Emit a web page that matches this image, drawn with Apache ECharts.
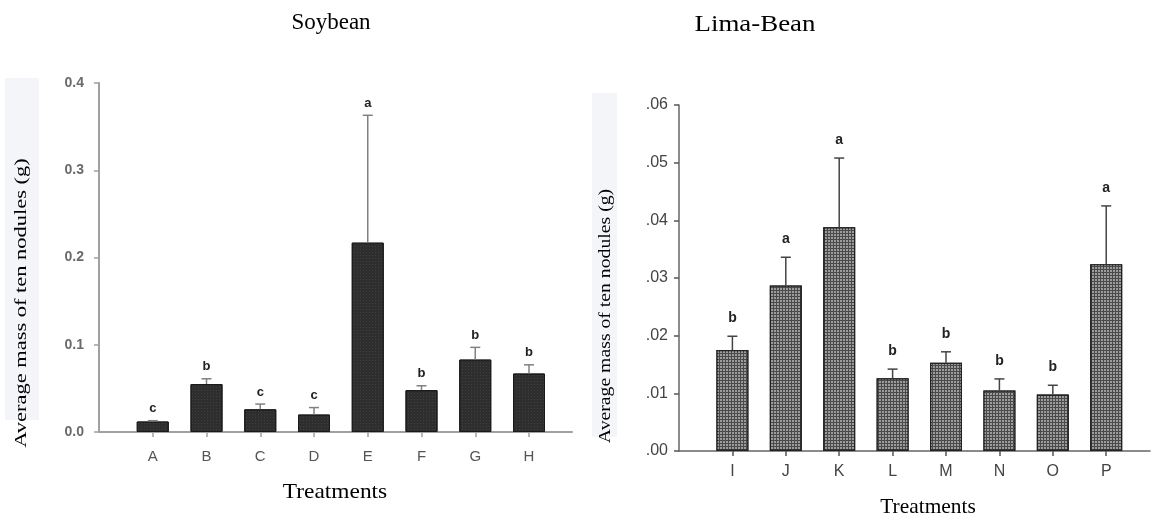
<!DOCTYPE html>
<html>
<head>
<meta charset="utf-8">
<script src="https://cdn.jsdelivr.net/npm/echarts@6/dist/echarts.min.js"></script>
<style>
html,body{margin:0;padding:0;background:#fff;}
#chart{width:1156px;height:517px;}
</style>
</head>
<body>
<div id="chart"></div>
<script>
// ---- data ----
const soyCategories = ['A','B','C','D','E','F','G','H'];
const soyMeans = [0.012, 0.055, 0.026, 0.020, 0.217, 0.048, 0.083, 0.067];
const soyErrors = [0.001, 0.006, 0.006, 0.008, 0.146, 0.005, 0.014, 0.010];
const soyLetters = ['c','b','c','c','a','b','b','b'];
const soyTicks = ['0.0','0.1','0.2','0.3','0.4'];

const limaCategories = ['I','J','K','L','M','N','O','P'];
const limaMeans = [0.0175, 0.0287, 0.0388, 0.0126, 0.0153, 0.0105, 0.0098, 0.0324];
const limaErrors = [0.0024, 0.0049, 0.0120, 0.0016, 0.0019, 0.0020, 0.0016, 0.0101];
const limaLetters = ['b','a','a','b','b','b','b','a'];
const limaTicks = ['.00','.01','.02','.03','.04','.05','.06'];

const titles = ['Soybean', 'Lima-Bean'];
const yName = 'Average mass of ten nodules (g)';
const xName = 'Treatments';

// ---- chart ----
const chart = echarts.init(document.getElementById('chart'), null, {renderer:'canvas'});
const positions = (cats) => cats.map((c, i) => i + 1);

function errSeries(idx, cats, means, errs, letters, color, gap, font) {
  return {
    type: 'custom',
    xAxisIndex: idx, yAxisIndex: idx,
    z: 5,
    data: cats.map((c, i) => [i + 1, means[i], errs[i]]),
    renderItem: function (params, api) {
      const x = api.value(0), v = api.value(1), e = api.value(2);
      const p0 = api.coord([x, v]);
      const p1 = api.coord([x, v + e]);
      return {
        type: 'group',
        children: [
          {type: 'line', shape: {x1: p0[0], y1: p0[1], x2: p1[0], y2: p1[1]}, style: {stroke: color, lineWidth: 1.5}},
          {type: 'line', shape: {x1: p1[0] - 5, y1: p1[1], x2: p1[0] + 5, y2: p1[1]}, style: {stroke: color, lineWidth: 1.5}},
          {type: 'text', x: p1[0], y: p1[1] - gap, style: {text: letters[params.dataIndex], fill: '#222', font: font, align: 'center', verticalAlign: 'middle'}}
        ]
      };
    }
  };
}

const serif = '"Liberation Serif", "Times New Roman", serif';

const option = {
  animation: false,
  backgroundColor: '#fff',
  grid: [
    {left: 99, top: 83, width: 473, height: 349},
    {left: 679, top: 105, width: 471, height: 346}
  ],
  xAxis: [
    {
      type: 'value', gridIndex: 0, min: 0, max: 8.8,
      splitLine: {show: false},
      axisLine: {show: true, lineStyle: {color: '#a0a0a0', width: 2}},
      axisTick: {show: true, customValues: positions(soyCategories), length: 5, lineStyle: {color: '#a0a0a0', width: 1.5}},
      axisLabel: {customValues: positions(soyCategories), formatter: (v) => soyCategories[Math.round(v) - 1] || '', margin: 17, fontFamily: 'Liberation Sans', fontSize: 15, color: '#555'}
    },
    {
      type: 'value', gridIndex: 1, min: 0, max: 8.82,
      splitLine: {show: false},
      axisLine: {show: true, lineStyle: {color: '#666', width: 1.5}},
      axisTick: {show: true, customValues: positions(limaCategories), length: 5, lineStyle: {color: '#555', width: 1.5}},
      axisLabel: {customValues: positions(limaCategories), formatter: (v) => limaCategories[Math.round(v) - 1] || '', margin: 13, fontFamily: 'Liberation Sans', fontSize: 16, color: '#444'}
    }
  ],
  yAxis: [
    {
      type: 'value', gridIndex: 0, min: 0, max: 0.4, interval: 0.1,
      splitLine: {show: false},
      axisLine: {show: true, lineStyle: {color: '#a0a0a0', width: 2}},
      axisTick: {show: true, length: 5, lineStyle: {color: '#a0a0a0', width: 1.5}},
      axisLabel: {formatter: (v, i) => soyTicks[i], margin: 15, fontFamily: 'Liberation Sans', fontSize: 14, fontWeight: 'bold', color: '#6a6a6a'}
    },
    {
      type: 'value', gridIndex: 1, min: 0, max: 0.06, interval: 0.01,
      splitLine: {show: false},
      axisLine: {show: true, lineStyle: {color: '#666', width: 1.5}},
      axisTick: {show: true, length: 5, lineStyle: {color: '#555', width: 1.5}},
      axisLabel: {formatter: (v, i) => limaTicks[i], margin: 11, fontFamily: 'Liberation Sans', fontSize: 16, color: '#444'}
    }
  ],
  series: [
    {
      type: 'bar', xAxisIndex: 0, yAxisIndex: 0, barWidth: 32,
      data: soyCategories.map((c, i) => [i + 1, soyMeans[i]]),
      itemStyle: {color: '#2e2e2e', borderColor: '#1a1a1a', borderWidth: 1,
        decal: {symbol: 'rect', symbolSize: 1, dashArrayX: [1, 2], dashArrayY: [1, 2], color: '#3f3f3f'}}
    },
    errSeries(0, soyCategories, soyMeans, soyErrors, soyLetters, '#808080', 12, 'bold 13px "Liberation Sans"'),
    {
      type: 'bar', xAxisIndex: 1, yAxisIndex: 1, barWidth: 32,
      data: limaCategories.map((c, i) => [i + 1, limaMeans[i]]),
      itemStyle: {color: '#4a4a4a', borderColor: '#222', borderWidth: 1.2,
        decal: {symbol: 'rect', symbolSize: 1, dashArrayX: [2, 1], dashArrayY: [2, 1], color: '#9c9c9c'}}
    },
    errSeries(1, limaCategories, limaMeans, limaErrors, limaLetters, '#444', 18, 'bold 14px "Liberation Sans"')
  ],
  graphic: [
    {type: 'rect', shape: {x: 5, y: 78, width: 34, height: 342}, style: {fill: '#f3f5f9'}, z: 0, silent: true},
    {type: 'rect', shape: {x: 592, y: 93, width: 25, height: 344}, style: {fill: '#f3f5f9'}, z: 0, silent: true},
    {type: 'text', x: 331, y: 23, scaleX: 1.0, z: 10,
      style: {text: titles[0], font: '23px ' + serif, fill: '#000', align: 'center', verticalAlign: 'middle'}},
    {type: 'text', x: 755, y: 25, scaleX: 1.17, z: 10,
      style: {text: titles[1], font: '23px ' + serif, fill: '#000', align: 'center', verticalAlign: 'middle'}},
    {type: 'text', x: 22, y: 303, rotation: Math.PI / 2, scaleX: 1.32, z: 10,
      style: {text: yName, font: '17px ' + serif, fill: '#000', align: 'center', verticalAlign: 'middle'}},
    {type: 'text', x: 606, y: 316, rotation: Math.PI / 2, scaleX: 1.16, z: 10,
      style: {text: yName, font: '17px ' + serif, fill: '#000', align: 'center', verticalAlign: 'middle'}},
    {type: 'text', x: 335, y: 492, scaleX: 1.17, scaleY: 1.1, z: 10,
      style: {text: xName, font: '20px ' + serif, fill: '#000', align: 'center', verticalAlign: 'middle'}},
    {type: 'text', x: 928, y: 507, scaleX: 1.07, scaleY: 1.1, z: 10,
      style: {text: xName, font: '20px ' + serif, fill: '#000', align: 'center', verticalAlign: 'middle'}}
  ]
};
chart.setOption(option);
</script>
</body>
</html>
